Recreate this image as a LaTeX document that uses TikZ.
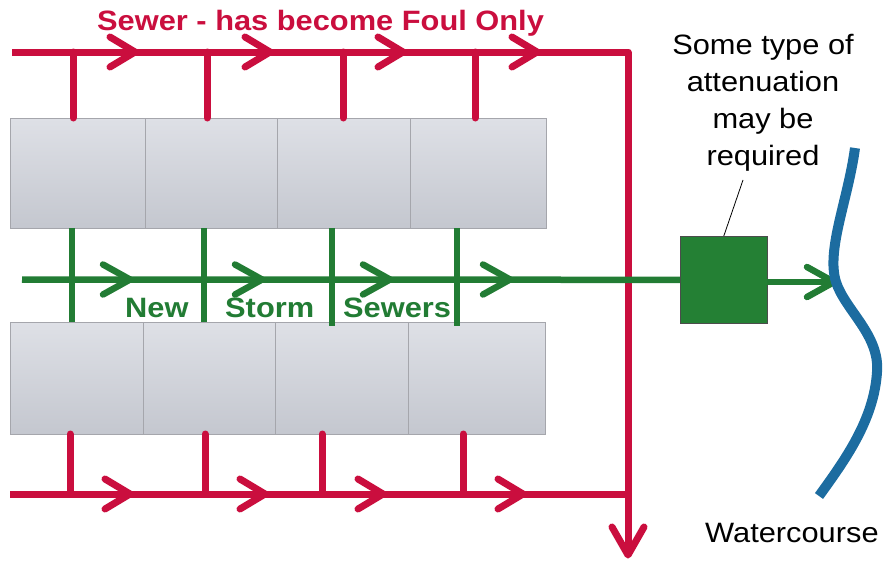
\documentclass[tikz,border=0pt]{standalone}
\usepackage{fontspec}
\setmainfont{Liberation Sans}[FakeStretch=1.1]
\definecolor{pipered}{RGB}{202,14,62}
\definecolor{pipegreen}{RGB}{34,124,52}
\definecolor{boxgreen}{RGB}{36,128,52}
\definecolor{riverblue}{RGB}{28,108,160}
\definecolor{housetop}{RGB}{222,224,230}
\definecolor{housebot}{RGB}{196,199,207}
\definecolor{houseedge}{RGB}{165,166,172}
\tikzset{
  redpipe/.style={draw=pipered, line width=7pt, line cap=round, line join=round},
  greenpipe/.style={draw=pipegreen, line width=6.5pt, line cap=round, line join=round},
  house/.style={draw=houseedge, line width=1.2pt, top color=housetop, bottom color=housebot, inner sep=0pt},
  bigtext/.style={font=\fontsize{28}{37}\selectfont, inner sep=0pt},
}
\newcommand\chevred[2]{\draw[redpipe, line cap=round] (#1-25,#2-15) -- (#1,#2) -- (#1-25,#2+15);}
\newcommand\chevgreen[2]{\draw[greenpipe, line cap=round] (#1-27,#2-15) -- (#1,#2) -- (#1-27,#2+15);}
\begin{document}
\begin{tikzpicture}[x=1pt,y=-1pt]
\useasboundingbox (0,0) rectangle (888,562);
% houses top row
\node (t1) [house, minimum width=135pt, minimum height=110pt, anchor=north west] at (10,118) {};
\node (t2) [house, minimum width=132pt, minimum height=110pt, anchor=north west] at (145,118) {};
\node (t3) [house, minimum width=133pt, minimum height=110pt, anchor=north west] at (277,118) {};
\node (t4) [house, minimum width=136pt, minimum height=110pt, anchor=north west] at (410,118) {};
% houses bottom row
\node (b1) [house, minimum width=133pt, minimum height=112pt, anchor=north west] at (10,322) {};
\node (b2) [house, minimum width=132pt, minimum height=112pt, anchor=north west] at (143,322) {};
\node (b3) [house, minimum width=133pt, minimum height=112pt, anchor=north west] at (275,322) {};
\node (b4) [house, minimum width=137pt, minimum height=112pt, anchor=north west] at (408,322) {};
% coordinates for red foul sewer
\coordinate (rs) at (12,52);
\coordinate (rc) at (628,52);
\coordinate (rb) at (628,494);
\coordinate (re) at (628,555);
\coordinate (bs) at (10,494);
% red stubs top
\draw[redpipe] (73,52) -- (73,118);
\draw[redpipe] (207,52) -- (207,118);
\draw[redpipe] (343,52) -- (343,118);
\draw[redpipe] (475,52) -- (475,118);
% red stubs bottom
\draw[redpipe] (70,434) -- (70,494);
\draw[redpipe] (205,434) -- (205,494);
\draw[redpipe] (322,434) -- (322,494);
\draw[redpipe] (463,434) -- (463,494);
% red main lines
\draw[redpipe, line cap=butt] (rs) -- (rc) -- (re);
\draw[redpipe, line cap=butt] (bs) -- (rb);
\draw[redpipe] (612,527) -- (re) -- (644,527);
\chevred{135}{52}\chevred{270}{52}\chevred{403}{52}\chevred{537}{52}
\chevred{130}{494}\chevred{265}{494}\chevred{383}{494}\chevred{523}{494}
% attenuation box
\node (att) [draw=gray!60!black, line width=0.6pt, fill=boxgreen, minimum width=87pt, minimum height=87pt, inner sep=0pt, anchor=north west] at (680,236) {};
% green storm sewers
\draw[greenpipe, line cap=butt] (72,228) -- (72,322);
\draw[greenpipe, line cap=butt] (204,228) -- (204,322);
\draw[greenpipe, line cap=butt] (332,228) -- (332,326);
\draw[greenpipe, line cap=butt] (457,228) -- (457,326);
\coordinate (gs) at (22,279.5);
\coordinate (ae) at (767,282);
\coordinate (ge) at (834,282);
\draw[greenpipe, line cap=butt] (gs) -- (att.west);
\draw[greenpipe, line cap=butt] (ae) -- (ge);
\chevgreen{130}{279.5}\chevgreen{262}{279.5}\chevgreen{390}{279.5}\chevgreen{510}{279.5}\chevgreen{834}{282}
% watercourse
\draw[riverblue, line width=10pt] (855,148) .. controls (848,200) and (826,250) .. (836,282)
  .. controls (845,310) and (880,335) .. (877,372)
  .. controls (874,420) and (845,460) .. (819,496);
% texts
\node (title) [bigtext, anchor=base west, text=pipered, font=\fontsize{28}{37}\selectfont\bfseries] at (97,30) {Sewer - has become Foul Only};
\node (lnew) [bigtext, anchor=base west, text=pipegreen, font=\fontsize{28}{37}\selectfont\bfseries] at (125,317) {New};
\node (lstorm) [bigtext, anchor=base west, text=pipegreen, font=\fontsize{28}{37}\selectfont\bfseries] at (225,317) {Storm};
\node (lsewers) [bigtext, anchor=base west, text=pipegreen, font=\fontsize{28}{37}\selectfont\bfseries] at (343,317) {Sewers};
\node (note) [bigtext, align=center, anchor=north] at (763,34) {Some type of\\attenuation\\may be\\required};
\coordinate (leadstart) at (743,180);
\draw[black, line width=0.8pt] (leadstart) -- (att.north);
\node (water) [bigtext, anchor=base west] at (705,542) {Watercourse};
\end{tikzpicture}
\end{document}
